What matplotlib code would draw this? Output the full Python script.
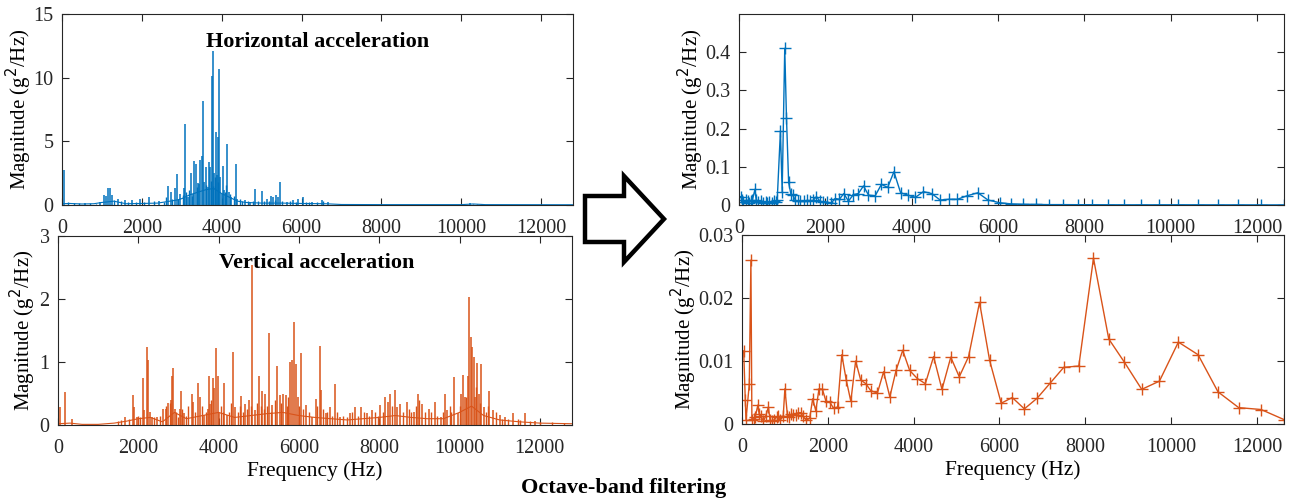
import numpy as np
import matplotlib.pyplot as plt
from matplotlib.patches import Polygon
from matplotlib.ticker import FormatStrFormatter

plt.rcParams['font.family'] = ['Liberation Serif', 'DejaVu Serif']
plt.rcParams['font.size'] = 14.5

BLUE = '#0072BD'
ORANGE = '#D95319'

# raw spectra, horizontal acceleration: spike positions (Hz) and heights (g^2/Hz)
h_spike_f = [50, 576, 950, 1060, 1100, 1160, 1200, 1245, 1411, 1580, 1745, 1954, 2188,
             2440, 2664, 2722, 2830, 2872, 2956, 3056, 3081, 3148, 3232, 3290, 3315,
             3357, 3398, 3432, 3465, 3499, 3532, 3566, 3607, 3649, 3682, 3716, 3749,
             3774, 3808, 3850, 3875, 3900, 3933, 3958, 4000, 4025, 4058, 4133, 4175,
             4233, 4350, 4392, 4584, 4710, 4835, 5018, 5127, 5227, 5294, 5369, 5419,
             5461, 5628, 5795, 5920, 6029, 6254, 6505, 6672, 10220]
h_spike = [2.74, 0.15, 0.2, 0.8, 0.7, 1.3, 1.35, 0.8, 0.5, 0.4, 0.4, 0.5, 0.65,
           0.35, 1.5, 1.05, 1.35, 2.4, 0.9, 1.35, 6.4, 0.65, 2.5, 0.9, 3.45,
           3.25, 1.7, 1.65, 3.5, 3.85, 8.2, 1.8, 3.0, 1.45, 3.4, 3.0, 10.1,
           12.1, 2.5, 5.7, 2.35, 5.35, 10.65, 2.2, 0.9, 3.05, 1.2, 4.8, 1.05,
           0.65, 3.2, 0.45, 0.4, 0.25, 1.25, 1.1, 0.5, 0.7, 0.65, 0.8, 0.6,
           1.8, 0.25, 0.4, 0.5, 0.65, 0.25, 0.4, 0.25, 0.12]
# smaller spikes (the "grass") of the horizontal spectrum
h_grass_f = [150, 300, 420, 700, 850, 1300, 1480, 1650, 1850, 2050, 2300, 2550, 2600,
             2750, 2900, 3020, 3110, 3190, 3260, 3380, 3620, 3730, 3790, 3830, 3915,
             4080, 4110, 4200, 4300, 4450, 4500, 4650, 4780, 4900, 5060, 5180, 5330,
             5520, 5700, 5860, 6100, 6200, 6400, 6550, 7000, 10300, 10400]
h_grass = [0.2, 0.15, 0.12, 0.15, 0.1, 0.4, 0.3, 0.25, 0.2, 0.2, 0.3, 0.25, 0.6,
           0.5, 0.5, 0.8, 1.0, 1.2, 0.7, 1.4, 1.6, 1.9, 1.5, 2.2, 1.8,
           1.0, 1.6, 0.9, 0.7, 0.5, 0.3, 0.35, 0.3, 0.3, 0.35, 0.3, 0.4,
           0.3, 0.3, 0.2, 0.2, 0.25, 0.2, 0.35, 0.05, 0.1, 0.08]
h_floor_f = [0, 200, 500, 800, 1000, 1300, 1600, 2000, 2400, 2700, 2900, 3000, 3200,
             3400, 3600, 3800, 4000, 4200, 4400, 4600, 5000, 5500, 6000, 6600, 7000,
             8000, 10000, 10300, 10600, 12800]
h_floor = [0.1, 0.12, 0.08, 0.1, 0.2, 0.3, 0.1, 0.12, 0.15, 0.3, 0.4, 0.5, 0.8,
           1.0, 1.2, 1.3, 0.9, 0.6, 0.3, 0.2, 0.15, 0.15, 0.12, 0.1, 0.04,
           0.03, 0.03, 0.08, 0.03, 0.02]

# raw spectra, vertical acceleration
v_spike_f = [58, 175, 350, 1667, 1858, 1900, 1958, 2108, 2150, 2217, 2250, 2292, 2350,
             2458, 2625, 2683, 2750, 2808, 2833, 2875, 2917, 3042, 3067, 3150, 3333,
             3375, 3483, 3542, 3625, 3725, 3750, 3792, 3850, 3883, 3933, 3975, 4017,
             4133, 4208, 4358, 4417, 4567, 4667, 4750, 4842, 4917, 5000, 5092, 5167,
             5258, 5333, 5458, 5525, 5608, 5667, 5775, 5817, 5875, 5917, 5975, 6058,
             6167, 6333, 6417, 6517, 6558, 6667, 6770, 6895, 7021, 7272, 7398, 7548,
             7690, 7816, 8025, 8151, 8209, 8276, 8385, 8444, 8527, 8695, 8862, 8962,
             9071, 9238, 9381, 9531, 9632, 9699, 9874, 9950, 10033, 10075, 10134,
             10201, 10243, 10285, 10310, 10351, 10385, 10435, 10477, 10544, 10603,
             10745, 10828, 10996, 11121, 11330, 11623, 11874]
v_spike = [0.28, 0.52, 0.1, 0.13, 0.48, 0.29, 0.13, 0.74, 0.24, 1.24, 1.03, 0.2, 0.13,
           0.13, 0.25, 0.25, 0.35, 0.4, 0.77, 0.9, 0.26, 0.26, 0.54, 0.19, 0.5,
           0.37, 0.66, 0.45, 0.16, 0.25, 0.78, 0.34, 0.75, 0.58, 1.23, 0.78, 0.19,
           0.67, 0.16, 1.16, 0.29, 0.46, 0.34, 0.4, 2.54, 0.24, 0.78, 0.54, 0.5,
           1.46, 0.32, 0.93, 0.48, 0.5, 0.48, 1.0, 1.03, 1.64, 0.97, 0.45, 1.15,
           0.32, 0.13, 0.42, 1.25, 0.56, 0.19, 0.29, 0.65, 0.13, 0.19, 0.29, 0.29,
           0.19, 0.24, 0.32, 0.45, 0.37, 0.49, 0.56, 0.29, 0.34, 0.37, 0.21, 0.5,
           0.34, 0.26, 0.37, 0.13, 0.5, 0.24, 0.76, 0.19, 0.5, 0.8, 0.45,
           0.77, 2.03, 1.4, 1.24, 1.08, 0.45, 0.98, 0.5, 0.97, 0.29,
           0.54, 0.24, 0.16, 0.13, 0.19, 0.19, 0.06]
v_grass_f = [1500, 1560, 1760, 2000, 2050, 2400, 2550, 2700, 2780, 2950, 3000, 3100,
             3200, 3250, 3420, 3580, 3680, 3820, 4060, 4100, 4250, 4300, 4480, 4530,
             4620, 4700, 4800, 4960, 5050, 5130, 5210, 5300, 5400, 5560, 5700, 5740,
             6010, 6100, 6250, 6450, 6600, 6700, 6830, 6950, 7100, 7200, 7330, 7470,
             7620, 7750, 7900, 7960, 8100, 8330, 8600, 8750, 8800, 8920, 9000, 9130,
             9300, 9450, 9580, 9760, 9800, 10000, 10170, 10400, 10500, 10650, 10700,
             10900, 11050, 11200, 11450, 11500, 11750, 12000, 12300, 12600]
v_grass = [0.06, 0.08, 0.1, 0.15, 0.12, 0.12, 0.15, 0.3, 0.35, 0.2, 0.12, 0.25,
           0.15, 0.3, 0.2, 0.3, 0.2, 0.4, 0.3, 0.2, 0.2, 0.35, 0.2, 0.3,
           0.2, 0.25, 0.3, 0.35, 0.3, 0.25, 0.3, 0.2, 0.4, 0.35, 0.3, 0.45,
           0.3, 0.25, 0.2, 0.3, 0.25, 0.2, 0.15, 0.2, 0.15, 0.12, 0.2, 0.15,
           0.2, 0.15, 0.2, 0.15, 0.2, 0.3, 0.2, 0.25, 0.2, 0.3, 0.4, 0.2,
           0.2, 0.15, 0.2, 0.3, 0.2, 0.3, 0.45, 0.6, 0.35, 0.2, 0.3,
           0.2, 0.1, 0.1, 0.1, 0.08, 0.07, 0.05, 0.04, 0.03]
v_floor_f = [0, 300, 600, 1000, 1400, 1700, 2000, 2300, 2600, 2900, 3200, 3600, 4000,
             4400, 4800, 5200, 5600, 6000, 6400, 6800, 7200, 7600, 8000, 8400, 8800,
             9200, 9600, 10000, 10300, 10600, 11000, 11500, 12000, 12800]
v_floor = [0.02, 0.03, 0.01, 0.01, 0.03, 0.06, 0.1, 0.12, 0.05, 0.2, 0.1, 0.15, 0.2,
           0.12, 0.15, 0.18, 0.2, 0.15, 0.12, 0.1, 0.08, 0.1, 0.12, 0.15, 0.12,
           0.1, 0.1, 0.2, 0.3, 0.15, 0.08, 0.05, 0.03, 0.02]

# band-filtered spectra (shared band centre frequencies)
band_f = [40, 77, 93, 170, 208, 231, 270, 308, 370, 400,
          447, 500, 554, 616, 654, 693, 754, 808, 847, 885,
          960, 1000, 1060, 1100, 1150, 1200, 1250, 1308, 1369, 1423,
          1500, 1577, 1647, 1720, 1795, 1875, 1957, 2044, 2134, 2228,
          2326, 2429, 2536, 2648, 2765, 2885, 3000, 3155, 3300, 3445,
          3590, 3745, 3907, 4088, 4272, 4465, 4660, 4865, 5063, 5280,
          5535, 5770, 6040, 6297, 6580, 6878, 7182, 7498, 7848, 8190,
          8546, 8911, 9314, 9726, 10168, 10627, 11092, 11573, 12094, 12630]
band_h = [0.022, 0.013, 0.008, 0.012, 0.010, 0.006, 0.010, 0.012, 0.041, 0.012,
          0.007, 0.010, 0.006, 0.008, 0.005, 0.009, 0.004, 0.010, 0.008, 0.012,
          0.194, 0.035, 0.410, 0.229, 0.059, 0.030, 0.025, 0.012, 0.010, 0.010,
          0.010, 0.012, 0.010, 0.012, 0.022, 0.010, 0.008, 0.007, 0.005, 0.017,
          0.015, 0.030, 0.010, 0.027, 0.030, 0.050, 0.026, 0.024, 0.054, 0.046,
          0.087, 0.032, 0.026, 0.020, 0.035, 0.030, 0.013, 0.015, 0.015, 0.024,
          0.032, 0.013, 0.006, 0.003, 0.002, 0.0015, 0.001, 0.001, 0.0008, 0.0008,
          0.0006, 0.0005, 0.0005, 0.0005, 0.0006, 0.0005, 0.0004, 0.0004, 0.0003, 0.0003]
band_v = [0.0116, 0.0038, 0.0006, 0.0063, 0.0260, 0.0006, 0.0008, 0.0011, 0.0030, 0.0016,
          0.0012, 0.0004, 0.0013, 0.0027, 0.0006, 0.0004, 0.0007, 0.0011, 0.0012, 0.0006,
          0.0012, 0.0056, 0.0013, 0.0011, 0.0016, 0.0014, 0.0014, 0.0018, 0.0018, 0.0012,
          0.0006, 0.0009, 0.0040, 0.0021, 0.0056, 0.0055, 0.0036, 0.0035, 0.0025, 0.0027,
          0.0110, 0.0070, 0.0036, 0.0100, 0.0070, 0.0064, 0.0053, 0.0049, 0.0083, 0.0043,
          0.0085, 0.0117, 0.0085, 0.0072, 0.0064, 0.0107, 0.0055, 0.0106, 0.0075, 0.0107,
          0.0193, 0.0101, 0.0033, 0.0042, 0.0024, 0.0041, 0.0065, 0.0090, 0.0092, 0.0263,
          0.0135, 0.0098, 0.0055, 0.0068, 0.0130, 0.0110, 0.0051, 0.0026, 0.0023, 0.0007]

ylab = 'Magnitude (g$^2$/Hz)'
xticks = [0, 2000, 4000, 6000, 8000, 10000, 12000]


def style(ax, ylab_x):
    ax.tick_params(direction='in', top=True, right=True, length=5, width=0.8,
                   colors='#262626', labelsize=14.5)
    ax.tick_params(axis='x', pad=10)
    ax.tick_params(axis='y', pad=6)
    for s in ax.spines.values():
        s.set_color('#262626')
        s.set_linewidth(0.8)
    ax.set_xticks(xticks)
    ax.set_ylabel(ylab, fontsize=15)
    ax.yaxis.set_label_coords(ylab_x, 0.5)


fig = plt.figure(figsize=(12.94, 5.0), dpi=100)

ax1 = fig.add_axes([0.0479, 0.590, 0.3949, 0.382])
ax2 = fig.add_axes([0.0448, 0.150, 0.3972, 0.378])
ax3 = fig.add_axes([0.5711, 0.590, 0.4212, 0.382])
ax4 = fig.add_axes([0.5734, 0.152, 0.4189, 0.378])

# raw horizontal
ax1.plot(h_floor_f, h_floor, color=BLUE, lw=0.8)
ax1.vlines(h_spike_f, 0, h_spike, color=BLUE, lw=1.1)
ax1.vlines(h_grass_f, 0, h_grass, color=BLUE, lw=1.0)
ax1.set_xlim(0, 12800)
ax1.set_ylim(0, 15)
ax1.set_yticks([0, 5, 10, 15])
ax1.text(6400, 12.8, 'Horizontal acceleration', ha='center', va='center',
         fontweight='bold', fontsize=16)
style(ax1, -0.054)

# raw vertical
ax2.plot(v_floor_f, v_floor, color=ORANGE, lw=0.8)
ax2.vlines(v_spike_f, 0, v_spike, color=ORANGE, lw=1.1)
ax2.vlines(v_grass_f, 0, v_grass, color=ORANGE, lw=1.0)
ax2.set_xlim(0, 12800)
ax2.set_ylim(0, 3)
ax2.set_yticks([0, 1, 2, 3])
ax2.set_xlabel('Frequency (Hz)', fontsize=15.5, labelpad=2.5)
ax2.text(6450, 2.57, 'Vertical acceleration', ha='center', va='center',
         fontweight='bold', fontsize=16)
style(ax2, -0.039)

# band-filtered horizontal
ax3.plot(band_f, band_h, color=BLUE, lw=1.0, marker='+', ms=8, mew=1.0)
ax3.set_xlim(band_f[0], band_f[-1])
ax3.set_ylim(0, 0.5)
ax3.set_yticks([0, 0.1, 0.2, 0.3, 0.4])
ax3.yaxis.set_major_formatter(FormatStrFormatter('%g'))
style(ax3, -0.061)

# band-filtered vertical
ax4.plot(band_f, band_v, color=ORANGE, lw=1.0, marker='+', ms=8, mew=1.0)
ax4.set_xlim(band_f[0], band_f[-1])
ax4.set_ylim(0, 0.03)
ax4.set_yticks([0, 0.01, 0.02, 0.03])
ax4.yaxis.set_major_formatter(FormatStrFormatter('%g'))
ax4.set_xlabel('Frequency (Hz)', fontsize=15.5, labelpad=2.5)
style(ax4, -0.079)

# hollow block arrow between the columns
W, H = 1294.0, 500.0
arrow_px = [(585, 196), (624, 196), (624, 176), (664, 219),
            (624, 262), (624, 242), (585, 242)]
arrow = Polygon([(x / W, 1 - y / H) for x, y in arrow_px], closed=True,
                transform=fig.transFigure, facecolor='white', edgecolor='black',
                lw=3.2, joinstyle='miter')
fig.patches.append(arrow)

fig.text(624 / W, 1 - 488 / H, 'Octave-band filtering', ha='center', va='center',
         fontweight='bold', fontsize=16)

fig.savefig('out.png', dpi=100)
